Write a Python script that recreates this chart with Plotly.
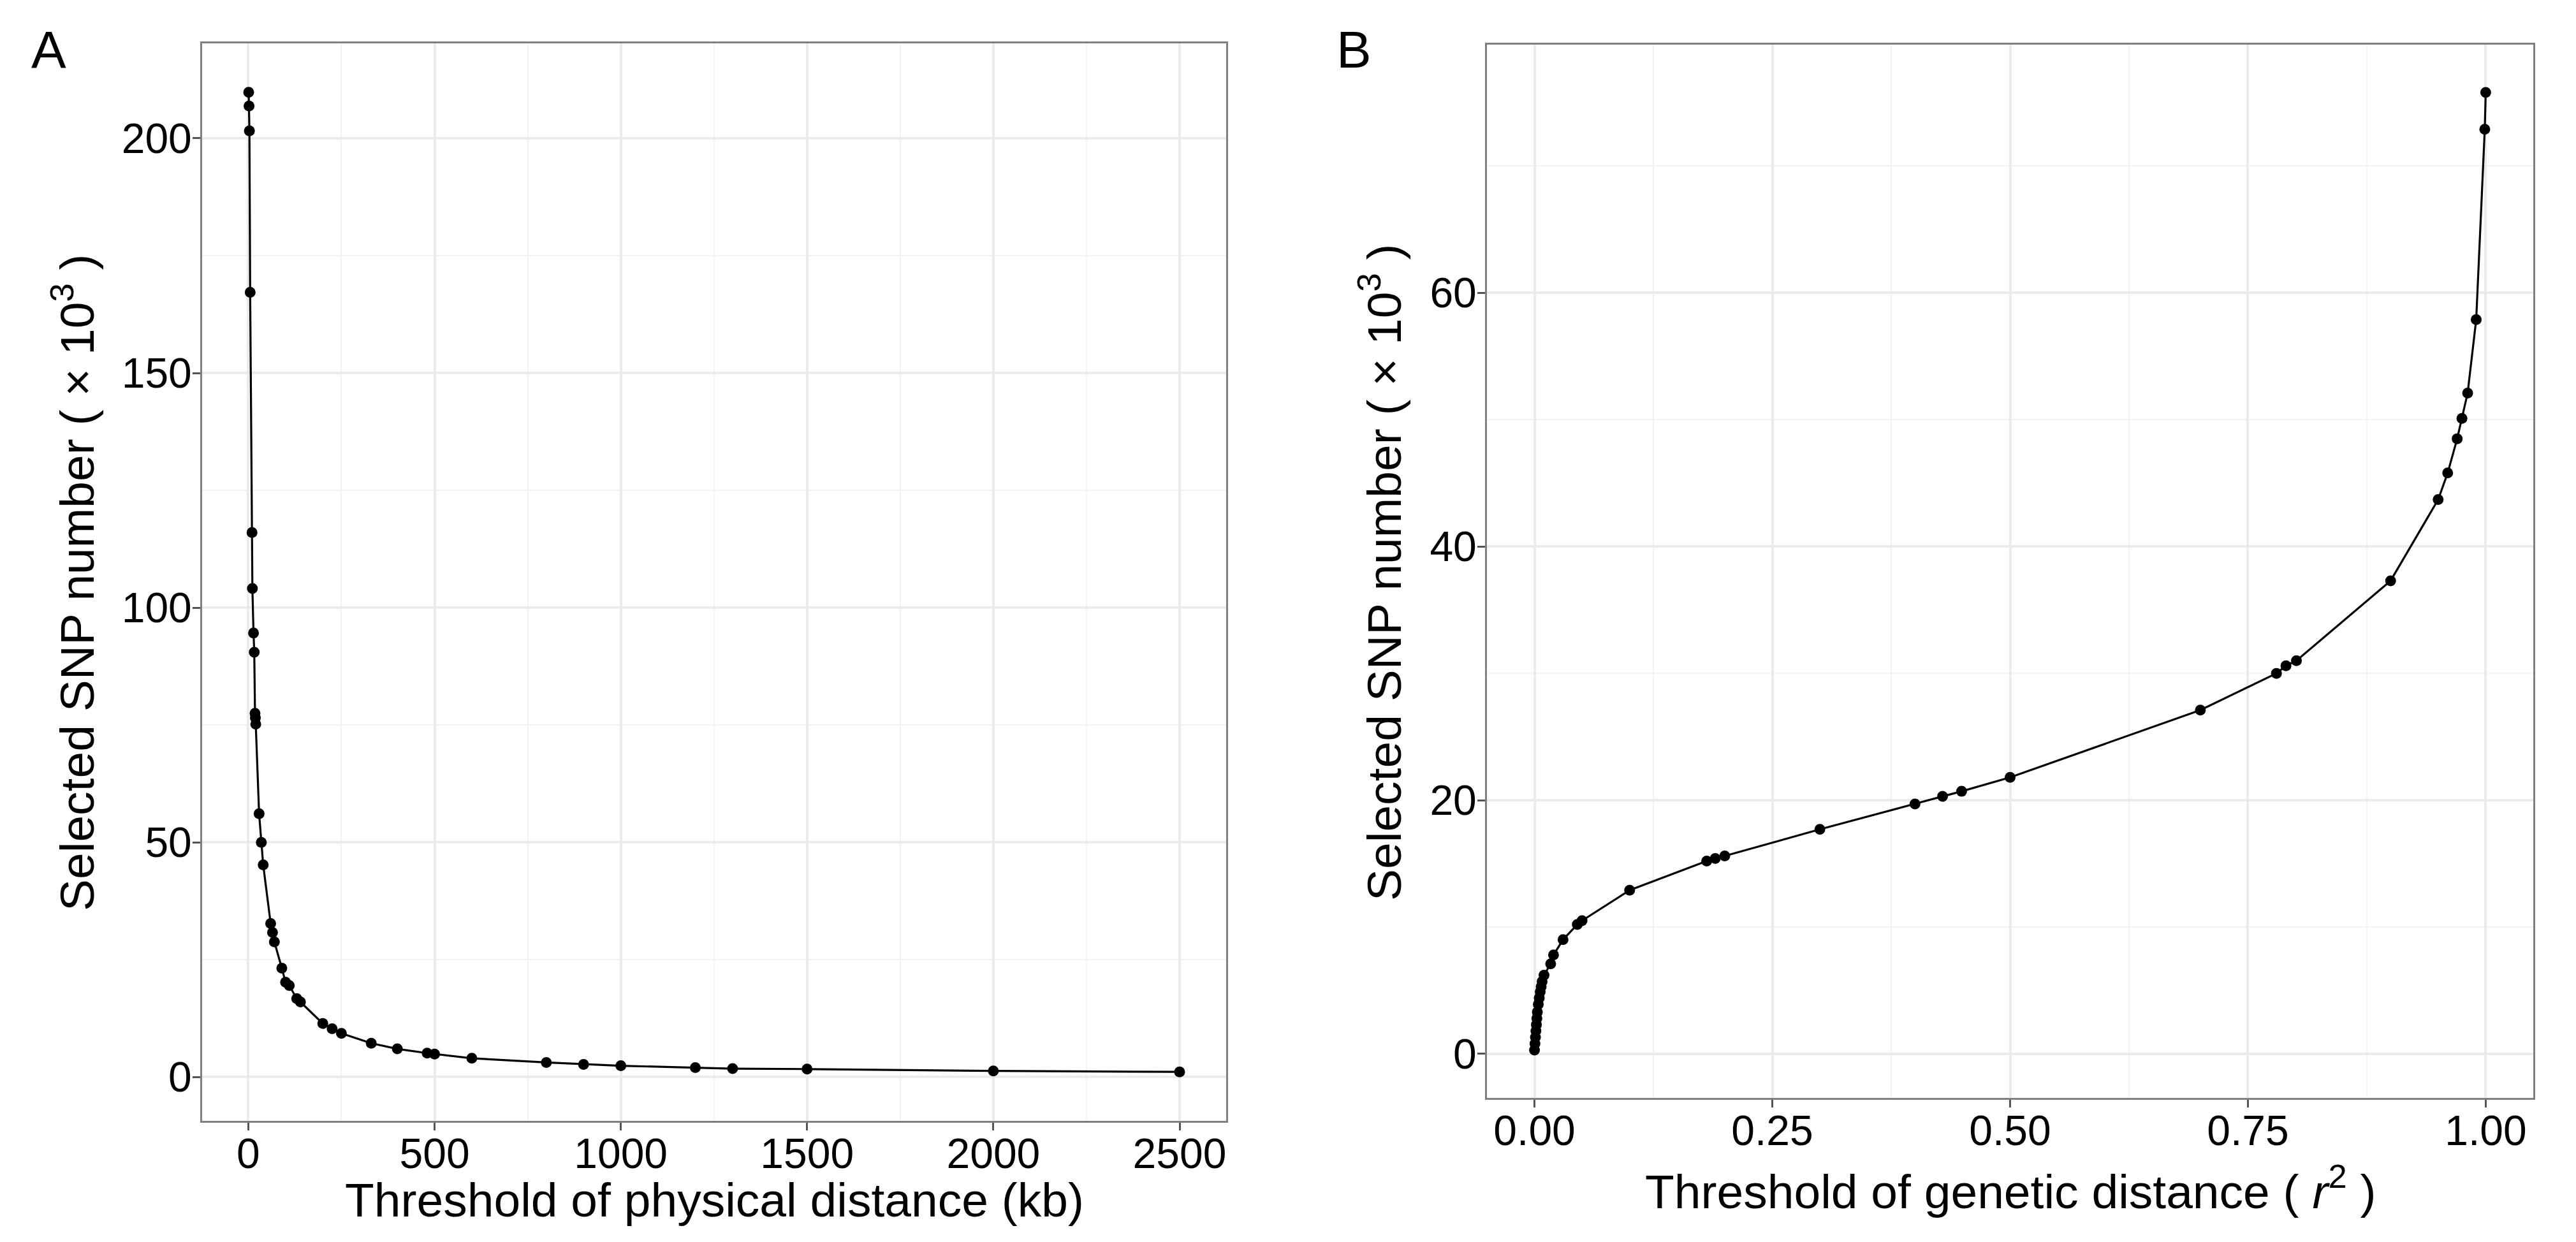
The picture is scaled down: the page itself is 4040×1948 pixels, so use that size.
import plotly.graph_objects as go

# ---------------- Data ----------------
# Panel A: threshold of physical distance (kb) vs selected SNP number (x10^3)
phys_kb = [1, 2, 3, 5, 10, 11, 14, 16, 18, 19, 20, 29, 35, 40, 60, 65, 70, 90, 100, 110,
           130, 140, 200, 225, 250, 330, 400, 480, 500, 600, 800, 900, 1000, 1200, 1300,
           1500, 2000, 2500]
phys_snp = [209.8, 206.9, 201.6, 167.2, 116.0, 104.1, 94.6, 90.5, 77.5, 76.5, 75.2, 56.1,
            50.0, 45.2, 32.7, 30.8, 28.8, 23.2, 20.2, 19.5, 16.7, 16.0, 11.4, 10.3, 9.3,
            7.2, 6.0, 5.1, 4.9, 4.0, 3.1, 2.7, 2.4, 2.0, 1.8, 1.7, 1.3, 1.1]

# Panel B: threshold of genetic distance (r^2) vs selected SNP number (x10^3)
gen_r2 = [0.0, 0.0005, 0.001, 0.0015, 0.002, 0.0025, 0.003, 0.004, 0.005, 0.006, 0.007,
          0.008, 0.010, 0.017, 0.020, 0.030, 0.045, 0.050, 0.100, 0.181, 0.190, 0.200,
          0.300, 0.400, 0.429, 0.449, 0.500, 0.700, 0.780, 0.790, 0.801, 0.900, 0.950,
          0.960, 0.970, 0.975, 0.981, 0.990, 0.999, 1.000]
gen_snp = [0.3, 0.8, 1.3, 1.8, 2.3, 2.8, 3.3, 3.9, 4.4, 4.9, 5.3, 5.7, 6.2, 7.1, 7.8, 9.0,
           10.2, 10.5, 12.9, 15.2, 15.4, 15.6, 17.7, 19.7, 20.3, 20.7, 21.8, 27.1, 30.0,
           30.6, 31.0, 37.3, 43.7, 45.8, 48.5, 50.1, 52.1, 57.9, 72.9, 75.8]

a_xticks = [0, 500, 1000, 1500, 2000, 2500]
a_yticks = [0, 50, 100, 150, 200]
b_xticks = [0, 0.25, 0.5, 0.75, 1.0]
b_xticklabels = ["0.00", "0.25", "0.50", "0.75", "1.00"]
b_yticks = [0, 20, 40, 60]

# ---------------- Layout helpers ----------------
W, H = 4040, 1948
FONT = "Liberation Sans, Arial, sans-serif"


def px(x):
    return x / W


def py(y):
    return 1 - y / H


def rng(vals, frac=0.05):
    lo, hi = min(vals), max(vals)
    d = (hi - lo) * frac
    return [lo - d, hi + d]


axis_common = dict(
    showline=True, mirror=True, linecolor="#808080", linewidth=3,
    ticks="outside", ticklen=12, tickwidth=3, tickcolor="#555555",
    tickfont=dict(family=FONT, size=66, color="black"),
    showgrid=True, gridcolor="#EBEBEB", gridwidth=3.5,
    zeroline=False,
)
x_common = dict(ticklabelstandoff=-20, **axis_common)
y_common = dict(ticklabelstandoff=-12, **axis_common)

fig = go.Figure()

line_style = dict(color="black", width=3.2)
marker_style = dict(color="black", size=17)

fig.add_trace(go.Scatter(x=phys_kb, y=phys_snp, mode="lines+markers",
                         line=line_style, marker=marker_style,
                         xaxis="x", yaxis="y", showlegend=False))
fig.add_trace(go.Scatter(x=gen_r2, y=gen_snp, mode="lines+markers",
                         line=line_style, marker=marker_style,
                         xaxis="x2", yaxis="y2", showlegend=False))

minor_style = dict(showgrid=True, gridcolor="#F2F2F2", gridwidth=2, ticks="")

fig.update_layout(
    width=W, height=H,
    margin=dict(l=0, r=0, t=0, b=0),
    paper_bgcolor="white", plot_bgcolor="white",
    xaxis=dict(domain=[px(317), px(1923)], anchor="y",
               range=rng(phys_kb), tickvals=a_xticks,
               minor=dict(dtick=250, tick0=0, **minor_style),
               **x_common),
    yaxis=dict(domain=[py(1758), py(68)], anchor="x",
               range=rng(phys_snp), tickvals=a_yticks,
               minor=dict(dtick=25, tick0=0, **minor_style),
               **y_common),
    xaxis2=dict(domain=[px(2332), px(3973)], anchor="y2",
                range=rng(gen_r2), tickvals=b_xticks, ticktext=b_xticklabels,
                minor=dict(dtick=0.125, tick0=0, **minor_style),
                **x_common),
    yaxis2=dict(domain=[py(1722), py(70)], anchor="x2",
                range=rng(gen_snp), tickvals=b_yticks,
                minor=dict(dtick=10, tick0=0, **minor_style),
                **y_common),
)

title_font = dict(family=FONT, size=75, color="black")
letter_font = dict(family=FONT, size=82, color="black")

annotations = [
    # panel letters
    dict(text="A", x=px(47), y=py(78), xanchor="left", yanchor="middle", font=letter_font),
    dict(text="B", x=px(2094), y=py(78), xanchor="left", yanchor="middle", font=letter_font),
    # x titles
    dict(text="Threshold of physical distance (kb)", x=px(1120), y=py(1882),
         xanchor="center", yanchor="middle", font=title_font),
    dict(text="Threshold of genetic distance ( <i>r</i><sup>2</sup> )", x=px(3153), y=py(1863),
         xanchor="center", yanchor="middle", font=title_font),
    # y titles
    dict(text="Selected SNP number ( × 10<sup>3</sup> )", x=px(115), y=py(914),
         xanchor="center", yanchor="middle", textangle=-90, font=title_font),
    dict(text="Selected SNP number ( × 10<sup>3</sup> )", x=px(2165), y=py(898),
         xanchor="center", yanchor="middle", textangle=-90, font=title_font),
]
for a in annotations:
    a.update(xref="paper", yref="paper", showarrow=False)
fig.update_layout(annotations=annotations)

fig.write_html("out.html")
